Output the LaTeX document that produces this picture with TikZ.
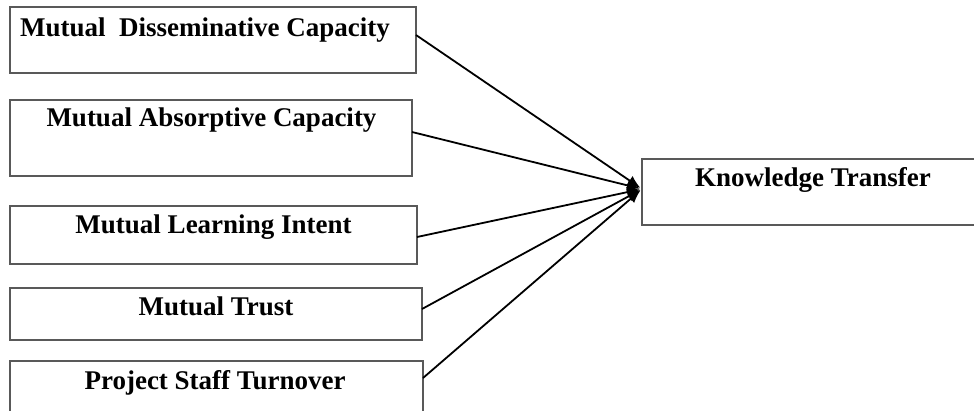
\documentclass[tikz,border=0pt]{standalone}
\usepackage{fontspec}
\setmainfont{Liberation Serif}
\usetikzlibrary{arrows.meta}

\begin{document}
\begin{tikzpicture}[x=1pt,y=-1pt,
  box/.style={draw=black!65, line width=1.3pt, inner sep=0pt, outer sep=0pt},
  label/.style={font=\fontsize{27}{30}\selectfont\bfseries, inner sep=0pt},
  link/.style={line width=1.8pt, -{Latex[length=13pt,width=11pt]}, shorten >=2pt}]
\useasboundingbox (0,0) rectangle (974,410);

\node[box, minimum width=406pt, minimum height=66pt] (dissem) at (213,40) {};
\node[box, minimum width=402pt, minimum height=76pt] (absorb) at (211,138) {};
\node[box, minimum width=407pt, minimum height=58pt] (intent) at (213.5,235) {};
\node[box, minimum width=412pt, minimum height=52pt] (trust) at (216,314) {};
\node[box, minimum width=413pt, minimum height=60pt] (turnover) at (216.5,391) {};
\node[box, minimum width=350pt, minimum height=66pt] (transfer) at (817,192) {};

\node[label, anchor=base west] (dissemtext) at (20,36) {Mutual\ \ Disseminative Capacity};
\node[label, anchor=base] (absorbtext) at (211.5,126) {Mutual Absorptive Capacity};
\node[label, anchor=base] (intenttext) at (213.5,233) {Mutual Learning Intent};
\node[label, anchor=base] (trusttext) at (216,315) {Mutual Trust};
\node[label, anchor=base] (turnovertext) at (215,389) {Project Staff Turnover};
\node[label, anchor=base] (transfertext) at (813,186) {Knowledge Transfer};

\draw[link] ([yshift=5pt]dissem.east) -- ([yshift=3pt]transfer.west);
\draw[link] ([yshift=6pt]absorb.east) -- ([yshift=3pt]transfer.west);
\draw[link] ([yshift=-2pt]intent.east) -- ([yshift=3pt]transfer.west);
\draw[link] ([yshift=5pt]trust.east) -- ([yshift=3pt]transfer.west);
\draw[link] ([yshift=13pt]turnover.east) -- ([yshift=3pt]transfer.west);
\end{tikzpicture}
\end{document}
